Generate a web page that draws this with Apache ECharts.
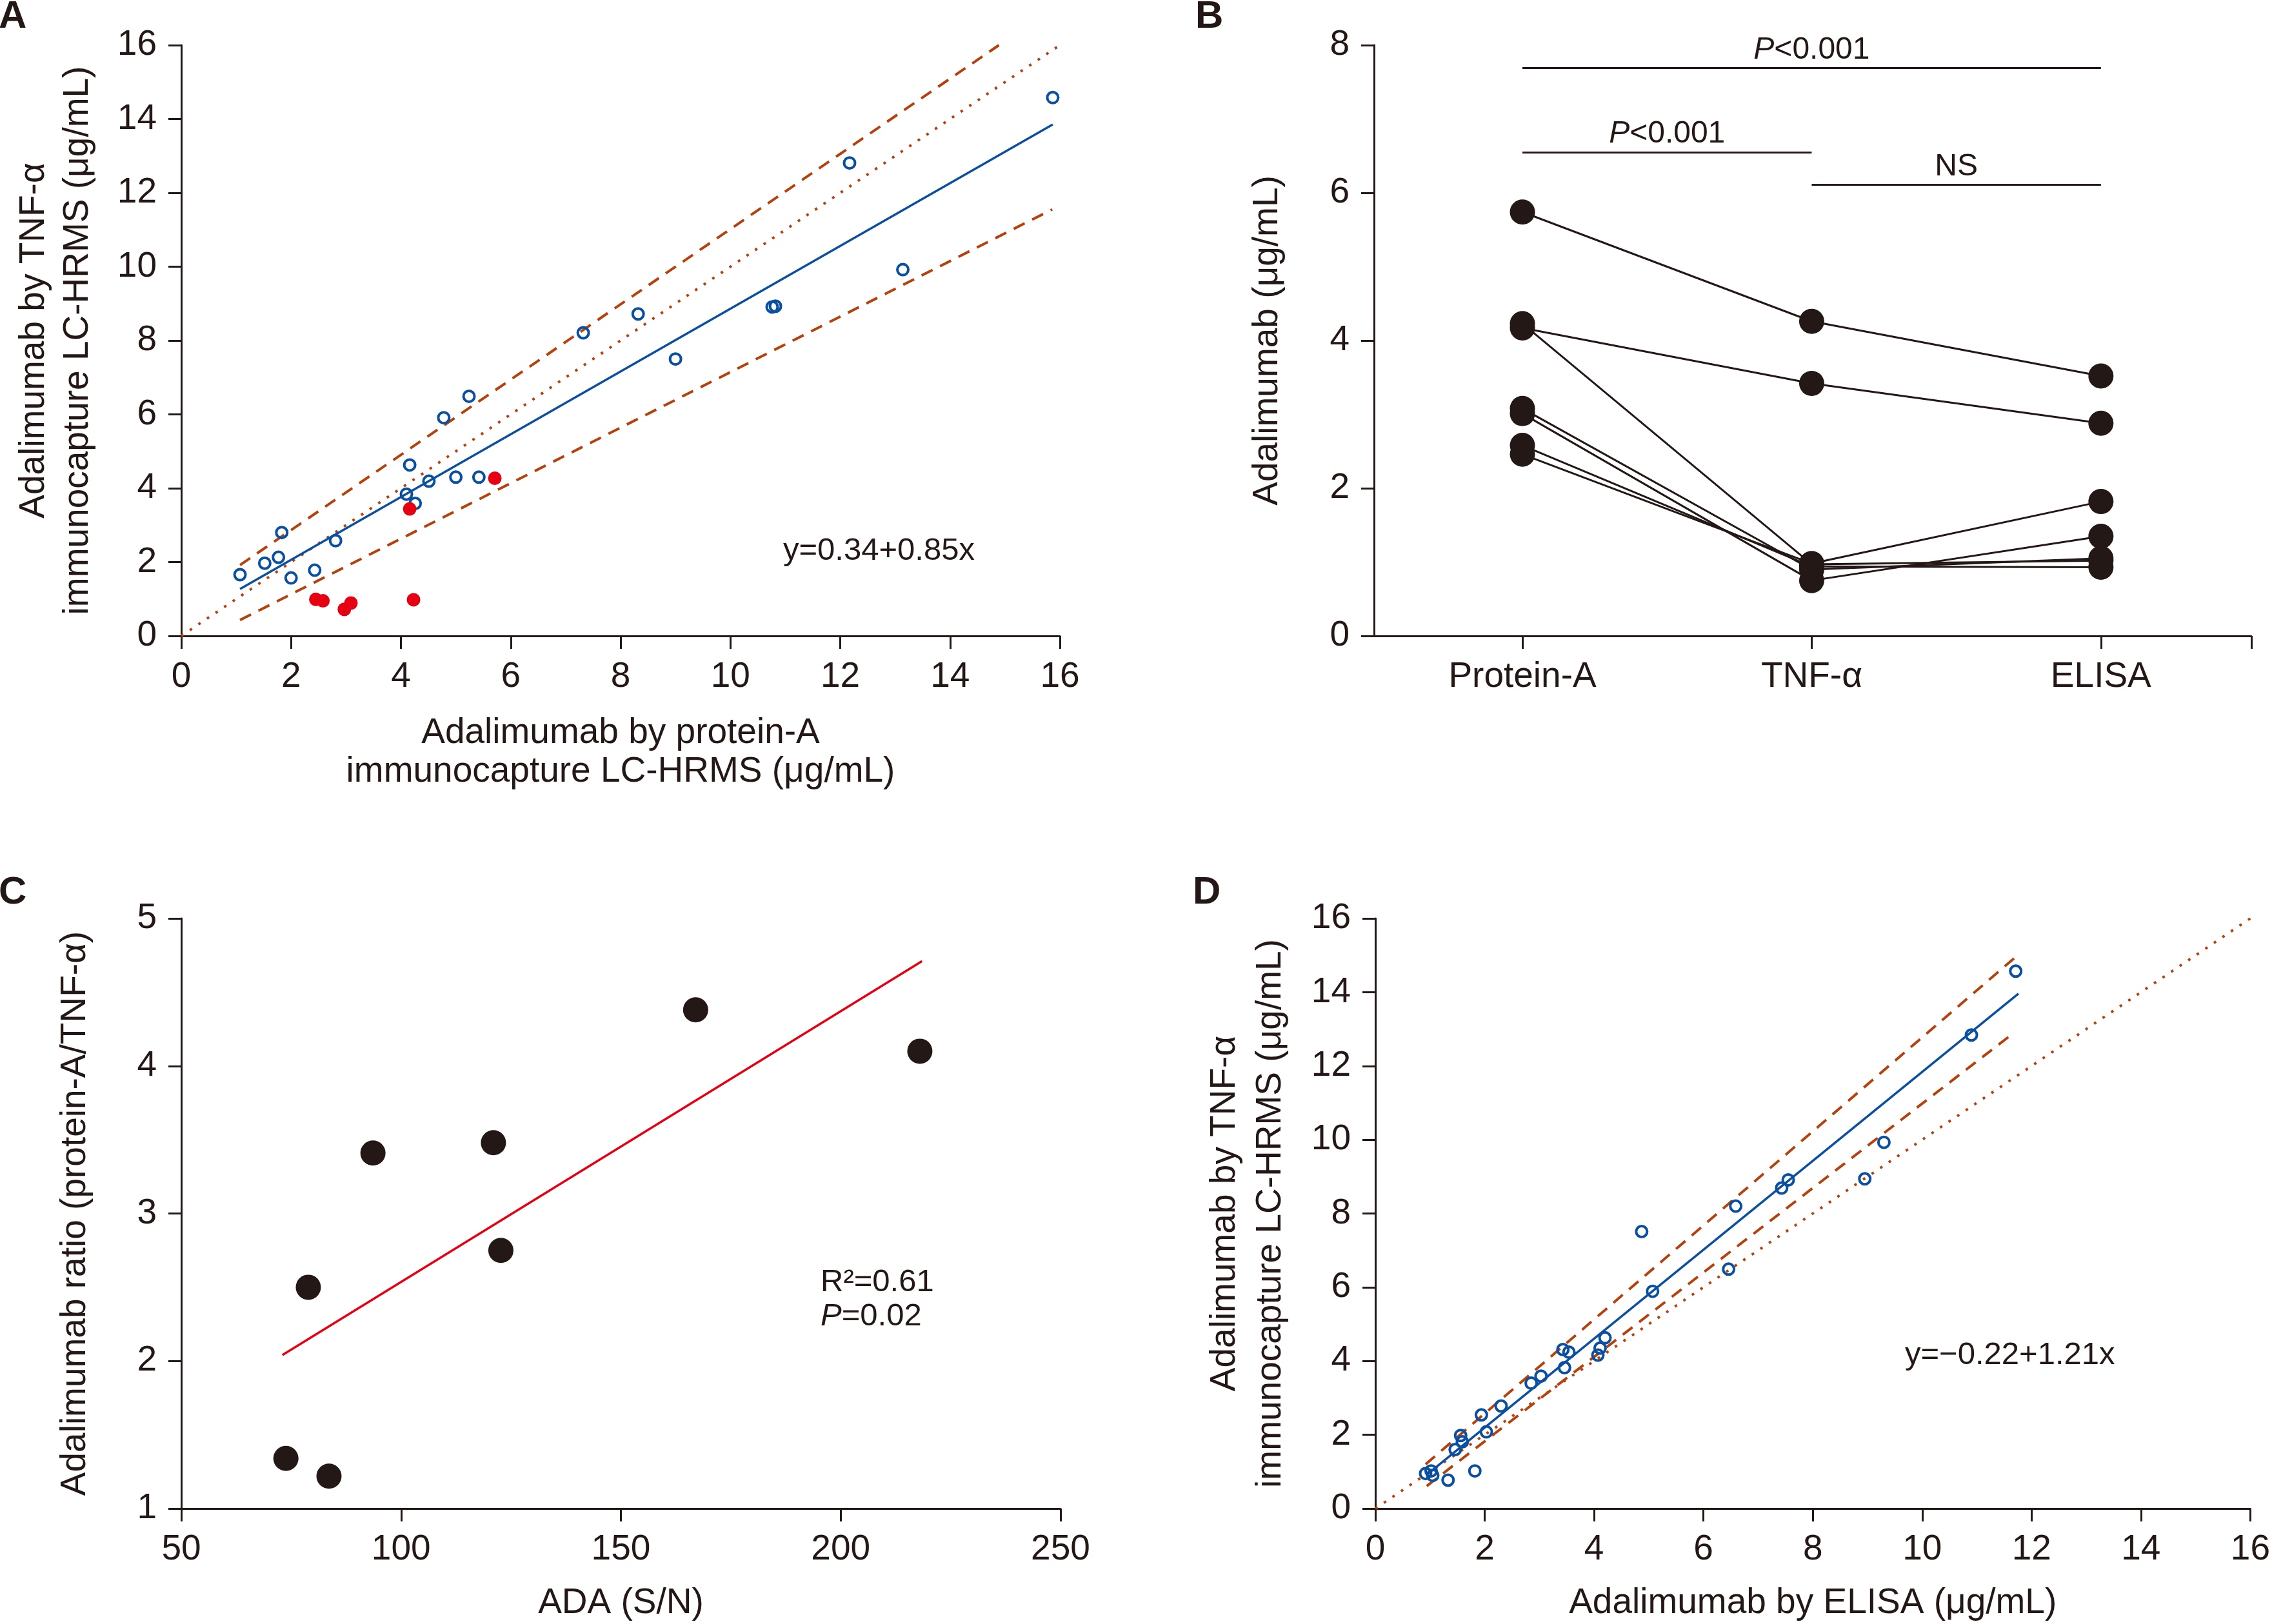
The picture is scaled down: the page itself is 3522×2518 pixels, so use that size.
<!DOCTYPE html>
<html><head><meta charset="utf-8">
<script src="https://cdn.jsdelivr.net/npm/echarts@6/dist/echarts.min.js"></script>
<style>html,body{margin:0;padding:0;background:#fff}#c{width:3522px;height:2518px}</style>
</head><body><div id="c"></div>
<script>
// ---------- Panel A: TNF-α vs protein-A ----------
const aBlueX = [1.07, 1.52, 1.77, 1.83, 2.00, 2.43, 2.81, 4.10, 4.16, 4.26, 4.51, 5.00, 5.42, 4.78, 5.24, 7.32, 8.32, 9.00, 10.76, 10.82, 12.17, 13.14, 15.87];
const aBlueY = [1.66, 1.97, 2.13, 2.80, 1.57, 1.78, 2.58, 3.84, 4.63, 3.59, 4.19, 4.30, 4.30, 5.91, 6.49, 8.21, 8.72, 7.50, 8.91, 8.93, 12.81, 9.92, 14.58];
const aRedX = [2.45, 2.58, 3.09, 2.97, 4.23, 4.16, 5.71];
const aRedY = [0.99, 0.95, 0.89, 0.72, 0.98, 3.44, 4.27];
const aFitX = [1.07, 15.87], aFitY = [1.27, 13.85];
const aUpX = [1.07, 14.89], aUpY = [1.92, 16.0];
const aLoX = [1.07, 15.86], aLoY = [0.43, 11.55];
const aIdX = [0, 16], aIdY = [0, 16];

// ---------- Panel B: paired values ----------
const bCats = ['Protein-A', 'TNF-α', 'ELISA'];
const bSubjects = [
  [5.74, 4.26, 3.52],
  [4.17, 3.42, 2.88],
  [4.23, 0.97, 1.02],
  [3.08, 0.90, 1.05],
  [3.01, 0.75, 1.35],
  [2.58, 0.94, 0.93],
  [2.46, 0.98, 1.82]
];
const bBrackets = [ // [from, to, y, text]
  ['Protein-A', 'ELISA', 7.69, '{i|P}<0.001'],
  ['Protein-A', 'TNF-α', 6.55, '{i|P}<0.001'],
  ['TNF-α', 'ELISA', 6.11, 'NS']
];

// ---------- Panel C: ratio vs ADA ----------
const cX = [73.8, 83.6, 78.9, 93.6, 121.0, 122.7, 167.0, 218.0];
const cY = [1.34, 1.22, 2.50, 3.41, 3.48, 2.75, 4.38, 4.10];
const cFitX = [73.0, 218.5], cFitY = [2.04, 4.71];

// ---------- Panel D: TNF-α vs ELISA ----------
const dX = [0.92, 1.02, 1.05, 1.33, 1.82, 1.46, 1.56, 1.59, 1.94, 2.03, 2.30, 2.85, 3.03, 3.43, 3.46, 3.54, 4.07, 4.11, 4.20, 4.87, 5.07, 6.46, 6.59, 7.43, 7.55, 8.95, 9.30, 10.90, 11.71];
const dY = [0.95, 1.02, 0.90, 0.77, 1.02, 1.60, 1.98, 1.81, 2.54, 2.08, 2.78, 3.40, 3.59, 4.31, 3.82, 4.24, 4.16, 4.35, 4.63, 7.51, 5.89, 6.49, 8.20, 8.69, 8.91, 8.94, 9.93, 12.84, 14.57];
const dFitX = [0.95, 11.76], dFitY = [0.93, 13.96];
const dUpX = [0.92, 11.76], dUpY = [1.20, 15.02];
const dLoX = [0.94, 11.66], dLoY = [0.61, 12.88];
const dIdX = [0, 16], dIdY = [0, 16];

const zip = (xs, ys) => xs.map((x, i) => [x, ys[i]]);
const catPos = name => bCats.indexOf(name) + 1;

const FONT = '"Liberation Sans", Arial, Helvetica, sans-serif';
const INK = '#231815';
const BLUE = '#0a4fa0';
const BROWN = '#b5410c';
const RED = '#e60012';

function valAxis(grid, min, max, interval, name, gap, lh, margin) {
  return {
    gridIndex: grid, type: 'value', min: min, max: max, interval: interval,
    axisLine: { show: true, onZero: false, lineStyle: { color: INK, width: 3 } },
    axisTick: { show: true, length: 20, lineStyle: { color: INK, width: 3 } },
    axisLabel: { fontSize: 55, color: INK, fontFamily: FONT, margin: margin },
    splitLine: { show: false },
    name: name, nameLocation: 'middle', nameGap: gap,
    nameTextStyle: { fontSize: 55, color: INK, fontFamily: FONT, lineHeight: lh }
  };
}

function lineSeries(xi, yi, xs, ys, color, width, type) {
  return {
    type: 'line', xAxisIndex: xi, yAxisIndex: yi, data: zip(xs, ys),
    symbol: 'none', silent: true, z: 2,
    lineStyle: { color: color, width: width, type: type, cap: 'butt' }
  };
}

const series = [];
// A
series.push(lineSeries(0, 0, aIdX, aIdY, BROWN, 4, [4, 12]));
series.push(lineSeries(0, 0, aUpX, aUpY, BROWN, 4, [19, 13]));
series.push(lineSeries(0, 0, aLoX, aLoY, BROWN, 4, [19, 13]));
series.push(lineSeries(0, 0, aFitX, aFitY, BLUE, 3.5, 'solid'));
series.push({ type: 'scatter', xAxisIndex: 0, yAxisIndex: 0, data: zip(aBlueX, aBlueY), symbol: 'circle', symbolSize: 17, z: 3,
  itemStyle: { color: 'rgba(255,255,255,0)', borderColor: BLUE, borderWidth: 4, opacity: 1 } });
series.push({ type: 'scatter', xAxisIndex: 0, yAxisIndex: 0, data: zip(aRedX, aRedY), symbol: 'circle', symbolSize: 21, z: 4,
  itemStyle: { color: RED, opacity: 1 } });
// B
bSubjects.forEach((s, k) => {
  const ser = {
    type: 'line', xAxisIndex: 1, yAxisIndex: 1, data: s.map((v, j) => [catPos(bCats[j]), v]),
    symbol: 'circle', symbolSize: 39,
    itemStyle: { color: INK, opacity: 1 }, lineStyle: { color: INK, width: 3 }, z: 3
  };
  if (k === 0) {
    ser.markLine = {
      silent: true, symbol: 'none', animation: false,
      lineStyle: { color: INK, width: 3, type: 'solid' },
      label: { show: true, position: 'insideMiddleTop', distance: 4, fontSize: 48, color: INK, fontFamily: FONT,
        rich: { i: { fontStyle: 'italic', fontSize: 48, color: INK, fontFamily: FONT } } },
      data: bBrackets.map(b => [
        { coord: [catPos(b[0]), b[2]], label: { formatter: b[3] } },
        { coord: [catPos(b[1]), b[2]] }
      ])
    };
  }
  series.push(ser);
});
// C
series.push(lineSeries(2, 2, cFitX, cFitY, RED, 3.5, 'solid'));
series.push({ type: 'scatter', xAxisIndex: 2, yAxisIndex: 2, data: zip(cX, cY), symbol: 'circle', symbolSize: 39, z: 3,
  itemStyle: { color: INK, opacity: 1 } });
// D
series.push(lineSeries(3, 3, dIdX, dIdY, BROWN, 4, [4, 12]));
series.push(lineSeries(3, 3, dUpX, dUpY, BROWN, 4, [19, 13]));
series.push(lineSeries(3, 3, dLoX, dLoY, BROWN, 4, [19, 13]));
series.push(lineSeries(3, 3, dFitX, dFitY, BLUE, 3.5, 'solid'));
series.push({ type: 'scatter', xAxisIndex: 3, yAxisIndex: 3, data: zip(dX, dY), symbol: 'circle', symbolSize: 17, z: 3,
  itemStyle: { color: 'rgba(255,255,255,0)', borderColor: BLUE, borderWidth: 4, opacity: 1 } });

function txt(x, y, text, font, extra) {
  return {
    type: 'text', x: x, y: y, silent: true,
    style: Object.assign({ text: text, font: font, fill: INK,
      textVerticalAlign: 'middle', verticalAlign: 'middle', textAlign: 'left', align: 'left' }, extra || {})
  };
}

const option = {
  animation: false,
  backgroundColor: '#ffffff',
  grid: [
    { left: 281, top: 70, width: 1362, height: 916 },
    { left: 2130, top: 70, width: 1360, height: 916 },
    { left: 281, top: 1424, width: 1363, height: 916 },
    { left: 2132, top: 1424, width: 1362, height: 916 }
  ],
  xAxis: [
    valAxis(0, 0, 16, 2, 'Adalimumab by protein-A\nimmunocapture LC-HRMS (μg/mL)', 121, 60, 36),
    {
      gridIndex: 1, type: 'value', min: 0.487, max: 3.52,
      axisLine: { show: true, onZero: false, lineStyle: { color: INK, width: 3 } },
      axisTick: { show: true, length: 20, customValues: [1, 2, 3, 3.52], lineStyle: { color: INK, width: 3 } },
      axisLabel: { fontSize: 55, color: INK, fontFamily: FONT, margin: 36, customValues: [1, 2, 3],
        formatter: v => bCats[Math.round(v) - 1] || '' },
      splitLine: { show: false }
    },
    valAxis(2, 50, 250, 50, 'ADA (S/N)', 116, 62, 36),
    valAxis(3, 0, 16, 2, 'Adalimumab by ELISA (μg/mL)', 116, 62, 36)
  ],
  yAxis: [
    valAxis(0, 0, 16, 2, 'Adalimumab by TNF-α\nimmunocapture LC-HRMS (μg/mL)', 126, 68, 38),
    valAxis(1, 0, 8, 2, 'Adalimumab (μg/mL)', 131, 68, 38),
    valAxis(2, 1, 5, 1, 'Adalimumab ratio (protein-A/TNF-α)', 130, 68, 38),
    valAxis(3, 0, 16, 2, 'Adalimumab by TNF-α\nimmunocapture LC-HRMS (μg/mL)', 127, 71, 38)
  ],
  series: series,
  graphic: [
    txt(-2, 26, 'A', 'bold 60px ' + FONT),
    txt(1853, 26, 'B', 'bold 60px ' + FONT),
    txt(-2, 1384, 'C', 'bold 60px ' + FONT),
    txt(1849, 1384, 'D', 'bold 60px ' + FONT),
    txt(1214, 854, 'y=0.34+0.85x', '49px ' + FONT),
    txt(1272, 1988, 'R²=0.61', '49px ' + FONT),
    txt(1272, 2041, '{i|P}=0.02', '49px ' + FONT,
      { rich: { i: { fontStyle: 'italic', fontSize: 49, fontFamily: FONT, fill: INK, color: INK } } }),
    txt(2953, 2101, 'y=\u22120.22+1.21x', '49px ' + FONT)
  ]
};

const chart = echarts.init(document.getElementById('c'), null, { renderer: 'canvas' });
chart.setOption(option);
</script></body></html>
